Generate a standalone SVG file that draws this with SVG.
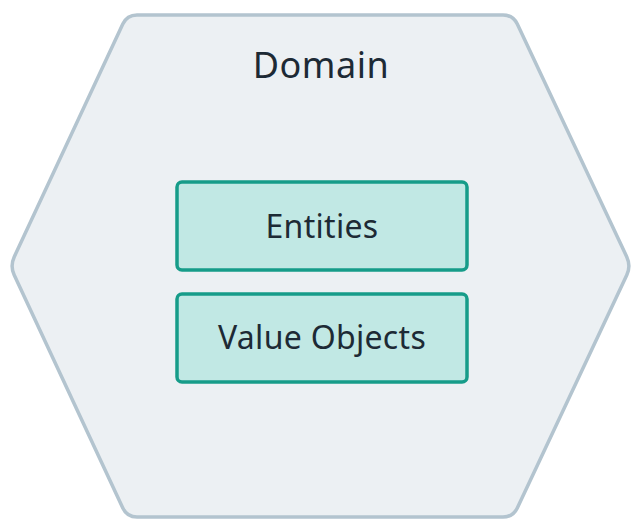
<svg xmlns="http://www.w3.org/2000/svg" width="640" height="531" viewBox="0 0 640 531">
<style>
.hex{fill:#ECF0F3;stroke:#B3C4CF;stroke-width:3.5;stroke-linejoin:round}
.box{fill:#C1E8E4;stroke:#169C89;stroke-width:3.5}
.t{font-family:"Noto Sans","DejaVu Sans",sans-serif;fill:#1D2A35;text-anchor:middle}
</style>
<rect width="640" height="531" fill="#FFFFFF"/>
<g id="domain">
<path class="hex" d="M137,15 L503,15 Q513,15 517.3,24.1 L626.8,256.9 Q631,266 626.8,275.1 L517.3,507.9 Q513,517 503,517 L137,517 Q127,517 122.8,507.9 L14.2,275.1 Q10,266 14.2,256.9 L122.8,24.1 Q127,15 137,15 Z"/>
<text class="t" x="321" y="78" font-size="36" letter-spacing="0.5">Domain</text>
</g>
<g id="entities">
<rect class="box" x="177" y="182" width="290" height="88" rx="5"/>
<text class="t" x="322" y="238" font-size="32" letter-spacing="0.3">Entities</text>
</g>
<g id="value-objects">
<rect class="box" x="177" y="294" width="290" height="88" rx="5"/>
<text class="t" x="322" y="349" font-size="32" letter-spacing="0.3">Value Objects</text>
</g>
<g id="connectors"></g>
</svg>
